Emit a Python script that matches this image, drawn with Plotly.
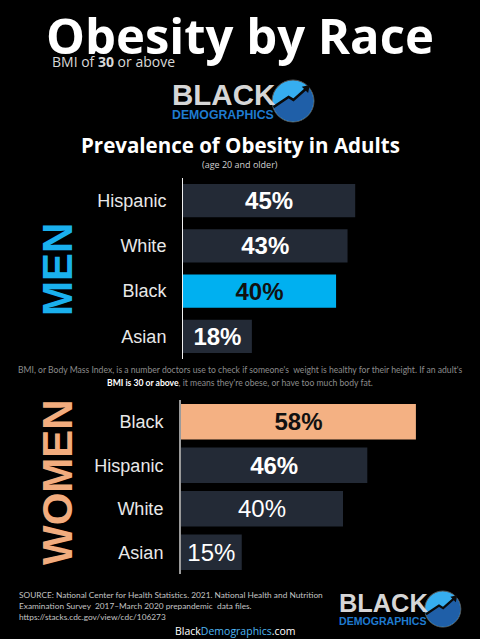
import math
import plotly.graph_objects as go

# data
men_groups = ["Hispanic", "White", "Black", "Asian"]
men_pct = [45, 43, 40, 18]
women_groups = ["Black", "Hispanic", "White", "Asian"]
women_pct = [58, 46, 40, 15]

W, H = 480, 639
DARK = "#232a36"
MEN_BLUE = "#00b0f0"
WOMEN_PEACH = "#f4b183"
SANS = "Liberation Sans, Arial, sans-serif"
TITLE_FONT = "Open Sans, sans-serif"
SMALL_FONT = "Lato, sans-serif"


def px(x):
    return x / W


def py(y):
    return 1 - y / H


def bar_colors(groups, highlight):
    return [highlight if g == "Black" else DARK for g in groups]


men_text = ["<b>%d%%</b>" % v for v in men_pct]
men_text_col = ["#111111" if g == "Black" else "white" for g in men_groups]
# women: Black & Hispanic bold, the rest regular (as in the original)
women_text = [("<b>%d%%</b>" % v) if g in ("Black", "Hispanic") else "%d%%" % v
              for g, v in zip(women_groups, women_pct)]
women_text_col = ["#111111" if g == "Black" else "white" for g in women_groups]

fig = go.Figure()
fig.add_trace(go.Bar(
    x=men_pct, y=men_groups, orientation="h", width=0.73,
    marker=dict(color=bar_colors(men_groups, MEN_BLUE), line_width=0),
    text=men_text, textposition="inside", insidetextanchor="middle",
    textfont=dict(family=SANS, size=24, color=men_text_col),
    xaxis="x", yaxis="y", hoverinfo="skip", showlegend=False,
))
fig.add_trace(go.Bar(
    x=women_pct, y=women_groups, orientation="h", width=0.82,
    marker=dict(color=bar_colors(women_groups, WOMEN_PEACH), line_width=0),
    text=women_text, textposition="inside", insidetextanchor="middle",
    textfont=dict(family=SANS, size=24, color=women_text_col),
    xaxis="x2", yaxis="y2", hoverinfo="skip", showlegend=False,
))

xcommon = dict(showgrid=False, zeroline=False, showticklabels=False, ticks="", fixedrange=True)
ycommon = dict(showgrid=False, zeroline=False, ticks="", autorange="reversed",
               tickfont=dict(family=SANS, size=18, color="#e8e8e8"), ticklabelstandoff=12)

fig.update_layout(
    width=W, height=H, autosize=False,
    margin=dict(l=0, r=0, t=0, b=0),
    paper_bgcolor="black", plot_bgcolor="black",
    xaxis=dict(domain=[px(183), px(470)], range=[0, 75], anchor="y", **xcommon),
    yaxis=dict(domain=[py(359), py(178)], anchor="x", showline=True,
               linecolor="#f0f0f0", linewidth=1, **ycommon),
    xaxis2=dict(domain=[px(181), px(464.5)], range=[0, 70], anchor="y2", **xcommon),
    yaxis2=dict(domain=[py(574), py(400)], anchor="x2", showline=True,
                linecolor="#9a9a9a", linewidth=2, **ycommon),
)

ann = []


def note(x, y, text, size, color="white", family=SMALL_FONT, xanchor="center", **kw):
    ann.append(dict(x=px(x), y=py(y), xref="paper", yref="paper", text=text, showarrow=False,
                    xanchor=xanchor, yanchor="middle", font=dict(family=family, size=size, color=color), **kw))


note(240, 35, "<b>Obesity by Race</b>", 49, family=TITLE_FONT)
note(50, 62, "BMI of <b>30</b> or above", 14, color="#d8d8d8", family=TITLE_FONT, xanchor="left")
note(240, 145, "<b>Prevalence of Obesity in Adults</b>", 20.5, family=TITLE_FONT)
note(240, 165, "(age 20 and older)", 9, color="#d0d0d0", family=TITLE_FONT)

note(57, 270, "<b>MEN</b>", 42, color="#1ab0ee", family=SANS, textangle=-90)
note(57, 482, "<b>WOMEN</b>", 42, color="#f2ac7e", family=SANS, textangle=-90)

note(240, 370, "BMI, or Body Mass Index, is a number doctors use to check if someone's  weight is healthy for their height. If an adult's",
     8.6, color="#8c8c8c")
note(240, 383, "<span style='color:white'><b>BMI is 30 or above</b></span>, it means they're obese, or have too much body fat.",
     8.6, color="#8c8c8c")

note(17, 606, "SOURCE: National Center for Health Statistics. 2021. National Health and Nutrition<br>"
     "Examination Survey  2017\u2013March 2020 prepandemic  data files.<br>"
     "https://stacks.cdc.gov/view/cdc/106273", 8.3, color="#c4c4c4", xanchor="left", align="left")
note(235, 631, "Black<span style='color:#4fb6f2'>Demographics</span>.com", 10.5, family=TITLE_FONT)

shapes = []


def logo(left, top, s):
    # "BLACK" / "DEMOGRAPHICS" wordmark with the rising-arrow circle
    note(left, top + 14 * s, "<b>BLACK</b>", 29.5 * s, color="#d6d6d6", family=SANS, xanchor="left")
    note(left, top + 34.5 * s, "<b>DEMOGRAPHICS</b>", 12.3 * s, color="#1f7bd0", family=SANS, xanchor="left")
    cx, cy, r = left + 123 * s, top + 21 * s, 21 * s
    shapes.append(dict(type="circle", xref="paper", yref="paper",
                       x0=px(cx - r), x1=px(cx + r), y0=py(cy + r), y1=py(cy - r),
                       fillcolor="#36aef0", line=dict(width=1, color="#555555")))
    zig = [(-0.93, -0.29), (-0.21, 0.19), (0.02, 0.05), (0.66, 0.62)]
    pts = list(zig) + [(0.78, 0.6)]
    for i in range(0, 21):
        a = math.radians(35 - i * (195 / 20))
        pts.append((0.97 * math.cos(a), 0.97 * math.sin(a)))
    path = "M " + " L ".join("%.4f,%.4f" % (px(cx + u * r), py(cy - v * r)) for u, v in pts) + " Z"
    shapes.append(dict(type="path", xref="paper", yref="paper", path=path,
                       fillcolor="#1f5fa8", line=dict(width=0)))
    line = "M " + " L ".join("%.4f,%.4f" % (px(cx + u * r), py(cy - v * r)) for u, v in zig)
    shapes.append(dict(type="path", xref="paper", yref="paper", path=line,
                       line=dict(color="#0a0a0a", width=2.5 * s)))
    hx, hy = cx + 0.72 * r, cy - 0.68 * r
    head = [(hx + 0.08 * r, hy - 0.08 * r), (hx - 0.3 * r, hy + 0.0 * r), (hx + 0.0 * r, hy + 0.3 * r)]
    shapes.append(dict(type="path", xref="paper", yref="paper",
                       path="M " + " L ".join("%.4f,%.4f" % (px(a), py(b)) for a, b in head) + " Z",
                       fillcolor="#0a0a0a", line=dict(width=0)))


logo(170, 80, 1.0)
logo(337, 591, 0.86)

fig.update_layout(annotations=ann, shapes=shapes)
fig.write_html("out.html", config={"displayModeBar": False},
               post_script="document.body.style.margin='0';document.body.style.overflow='hidden';")
